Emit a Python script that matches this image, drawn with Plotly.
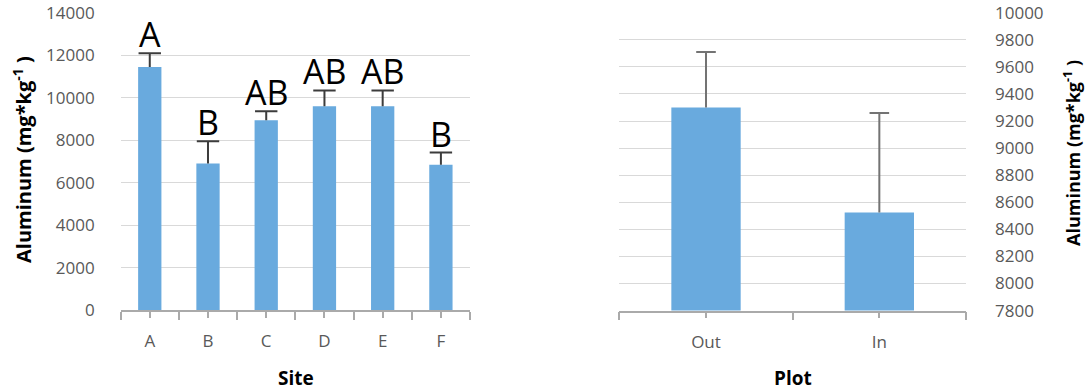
import plotly.graph_objects as go

# ---- data ----
sites = ["A", "B", "C", "D", "E", "F"]
site_al = [11450, 6900, 8950, 9600, 9600, 6850]
site_err = [650, 1050, 420, 750, 750, 570]
site_letters = ["A", "B", "AB", "AB", "AB", "B"]

plots = ["Out", "In"]
plot_al = [9300, 8525]
plot_err = [410, 735]

# ---- styles ----
BAR = "#69aade"
ERR_LEFT = "#3c3c3c"
ERR_RIGHT = "#737373"
GRID = "#d9d9d9"
AXIS = "#aaaaaa"
TICK = "#595959"
FONT = "Open Sans"

xs1 = list(range(len(sites)))
xs2 = list(range(len(plots)))

fig = go.Figure()


def add_group(xs, vals, errs, xa, ya, cap, ecol):
    fig.add_trace(go.Bar(
        x=xs, y=vals, marker=dict(color=BAR, line=dict(width=0)),
        error_y=dict(type="data", array=errs, arrayminus=[0] * len(xs),
                     symmetric=False, color=ecol, thickness=2, width=0),
        xaxis=xa, yaxis=ya, showlegend=False, hoverinfo="skip"))
    # caps on top of the upper error bars only
    fig.add_trace(go.Scatter(
        x=xs, y=[v + e for v, e in zip(vals, errs)], mode="markers",
        marker=dict(symbol="line-ew-open", size=cap, color=ecol,
                    line=dict(color=ecol, width=2)),
        xaxis=xa, yaxis=ya, showlegend=False, hoverinfo="skip"))


add_group(xs1, site_al, site_err, "x", "y", 16, ERR_LEFT)
add_group(xs2, plot_al, plot_err, "x2", "y2", 14, ERR_RIGHT)

ann = []
for i, (v, e, t) in enumerate(zip(site_al, site_err, site_letters)):
    ann.append(dict(x=i, y=v + e, xref="x", yref="y", text=t, showarrow=False,
                    yanchor="bottom", yshift=-6,
                    font=dict(family=FONT, size=34, color="#000000")))

ann += [
    dict(x=0.2722, y=1 - 378 / 390, xref="paper", yref="paper", text="<b>Site</b>",
         xanchor="center", yanchor="middle",
         showarrow=False, font=dict(family=FONT, size=19, color="#000")),
    dict(x=0.7301, y=1 - 378 / 390, xref="paper", yref="paper", text="<b>Plot</b>",
         xanchor="center", yanchor="middle",
         showarrow=False, font=dict(family=FONT, size=19, color="#000")),
    dict(x=22 / 1086, y=1 - 160 / 390, xref="paper", yref="paper", textangle=-90,
         text="<b>Aluminum (mg*kg<sup>-1</sup> )</b>", xanchor="center", yanchor="middle",
         showarrow=False, font=dict(family=FONT, size=20, color="#000")),
    dict(x=1072 / 1086, y=1 - 153 / 390, xref="paper", yref="paper", textangle=-90,
         text="<b>Aluminum (mg*kg<sup>-1</sup> )</b>", xanchor="center", yanchor="middle",
         showarrow=False, font=dict(family=FONT, size=18, color="#000")),
]

tickfont = dict(family=FONT, size=17, color=TICK)

fig.update_layout(
    width=1086, height=390,
    margin=dict(l=0, r=0, t=0, b=0, autoexpand=False),
    paper_bgcolor="white", plot_bgcolor="white",
    bargap=0.6,
    annotations=ann,
    xaxis=dict(domain=[0.1111, 0.4328], range=[-0.5, len(sites) - 0.5],
               tickvals=xs1, ticktext=sites, tickfont=tickfont,
               showline=True, linecolor=AXIS, linewidth=1.5,
               ticks="outside", ticklen=6, tickcolor=AXIS, tickwidth=1.5,
               minor=dict(tickvals=[i - 0.5 for i in range(len(sites) + 1)],
                          ticks="outside", ticklen=8, tickcolor=AXIS, tickwidth=1.5),
               showgrid=False, zeroline=False, ticklabelstandoff=9, anchor="y"),
    yaxis=dict(domain=[0.2051, 0.9667], range=[0, 14000], dtick=2000,
               tickformat="d",
               tickfont=tickfont, showgrid=True, gridcolor=GRID, gridwidth=1,
               zeroline=False, showline=False, ticks="", ticklabelstandoff=25,
               anchor="x"),
    xaxis2=dict(domain=[0.5703, 0.8895], range=[-0.5, len(plots) - 0.5],
                tickvals=xs2, ticktext=plots, tickfont=tickfont,
                showline=True, linecolor=AXIS, linewidth=1.5,
                ticks="outside", ticklen=6, tickcolor=AXIS, tickwidth=1.5,
                minor=dict(tickvals=[i - 0.5 for i in range(len(plots) + 1)],
                           ticks="outside", ticklen=8, tickcolor=AXIS, tickwidth=1.5),
                showgrid=False, zeroline=False, ticklabelstandoff=9, anchor="y2"),
    yaxis2=dict(domain=[0.2036, 0.9674], range=[7800, 10000], dtick=200,
                tickformat="d",
                tickfont=tickfont, showgrid=True, gridcolor=GRID, gridwidth=1,
                zeroline=False, showline=False, ticks="", side="right",
                ticklabelstandoff=28, anchor="x2"),
)

fig.write_html("out.html")
